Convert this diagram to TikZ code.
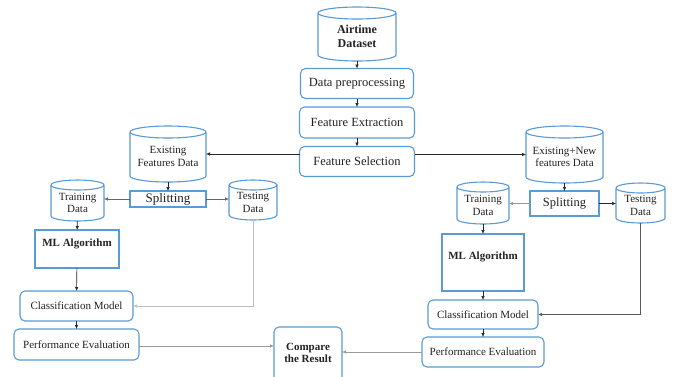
\documentclass[tikz,border=0pt]{standalone}
\usepackage{fontspec}
\setmainfont{Liberation Serif}
\usetikzlibrary{arrows.meta,calc}
\definecolor{boxblue}{HTML}{5B9BD5}
\definecolor{txt}{HTML}{222222}

\tikzset{
  base/.style={draw=boxblue, line width=1.1pt, text=txt, align=center, inner sep=1pt, outer sep=0pt},
  rbox/.style={base, rounded corners=5pt, font=\fontsize{11}{13}\selectfont},
  mainbox/.style={rbox, font=\fontsize{12.5}{14.5}\selectfont},
  sbox/.style={base},
  drum/.style={draw=none, inner sep=0pt, outer sep=0pt},
  drumtext/.style={align=center, text=txt, inner sep=0pt, font=\fontsize{11}{12.8}\selectfont},
  flow/.style={-{Latex[length=4pt,width=3.5pt]}, line width=0.6pt, draw=black!85},
  soft/.style={flow, draw=black!40},
}

% outline of a storage cylinder fitted to the bounds of node #1, cap half-height #2
\newcommand\drumoutline[2]{%
  \draw[boxblue, line width=1.1pt] let \p1=(#1.north west), \p2=(#1.south east),
      \n1={(\x2-\x1)/2} in
    (\x1,\y1-#2) -- (\x1,\y2+#2)
      arc[start angle=180, end angle=360, x radius=\n1, y radius=#2]
      -- (\x2,\y1-#2)
    (\x1,\y1-#2) arc[start angle=180, end angle=-180, x radius=\n1, y radius=#2];}

\begin{document}
\begin{tikzpicture}[x=1pt, y=-1pt]
\clip (0,0) rectangle (674,376);
\fill[white] (0,0) rectangle (674,376);

% central pipeline
\node[drum, minimum width=78pt, minimum height=54pt,
  label={[drumtext, font=\bfseries\fontsize{12}{13.5}\selectfont, yshift=-2.5pt]center:Airtime\\Dataset}]
  (ds) at (357,34) {};
\drumoutline{ds}{6pt}
\node[mainbox, minimum width=113pt, minimum height=30pt] (pre) at (357,83.5) {Data preprocessing};
\node[mainbox, minimum width=115pt, minimum height=31pt] (fex) at (357,122.5) {Feature Extraction};
\node[mainbox, minimum width=115pt, minimum height=30pt] (fsel) at (357,161.5) {Feature Selection};

% left branch
\node[drum, minimum width=76pt, minimum height=56pt,
  label={[drumtext, yshift=-2.5pt]center:Existing\\Features Data}] (exl) at (168,154) {};
\drumoutline{exl}{6pt}
\node[sbox, minimum width=76pt, minimum height=16pt, font=\fontsize{13}{14}\selectfont] (splL) at (168,199) {Splitting};
\node[drum, minimum width=53pt, minimum height=41pt,
  label={[drumtext, yshift=-2.5pt]center:Training\\Data}] (trL) at (77.5,200.5) {};
\drumoutline{trL}{5pt}
\node[drum, minimum width=48pt, minimum height=40pt,
  label={[drumtext, yshift=-2.5pt]center:Testing\\Data}] (teL) at (253,200) {};
\drumoutline{teL}{5pt}
\node[sbox, minimum width=84pt, minimum height=38pt,
  label={[drumtext, font=\bfseries\fontsize{11}{12.5}\selectfont, yshift=5pt]center:ML Algorithm}]
  (mlL) at (77,249) {};
\node[rbox, minimum width=113pt, minimum height=30pt] (clL) at (76.5,306) {Classification Model};
\node[rbox, minimum width=125pt, minimum height=31pt] (peL) at (76.5,344.5) {Performance Evaluation};

% comparison
\node[base, rounded corners=5pt, minimum width=68pt, minimum height=56pt,
  label={[drumtext, font=\bfseries\fontsize{11}{12.5}\selectfont, yshift=2pt]center:Compare\\the Result}]
  (cmp) at (308,355) {};

% right branch
\node[drum, minimum width=77pt, minimum height=57pt,
  label={[drumtext, yshift=-2.5pt]center:Existing+New\\features Data}] (exr) at (564.5,154.5) {};
\drumoutline{exr}{6pt}
\node[sbox, minimum width=69pt, minimum height=25pt, font=\fontsize{12.5}{14}\selectfont] (splR) at (564.5,203.5) {Splitting};
\node[drum, minimum width=52pt, minimum height=42pt,
  label={[drumtext, yshift=-2.5pt]center:Training\\Data}] (trR) at (483,203) {};
\drumoutline{trR}{5pt}
\node[drum, minimum width=49pt, minimum height=40pt,
  label={[drumtext, yshift=-2.5pt]center:Testing\\Data}] (teR) at (640.5,203) {};
\drumoutline{teR}{5pt}
\node[sbox, minimum width=82pt, minimum height=57pt,
  label={[drumtext, font=\bfseries\fontsize{11}{12.5}\selectfont, yshift=5.5pt]center:ML Algorithm}]
  (mlR) at (483,262.5) {};
\node[rbox, minimum width=110pt, minimum height=29pt] (clR) at (483,314.5) {Classification Model};
\node[rbox, minimum width=122pt, minimum height=30pt] (peR) at (483,352) {Performance Evaluation};

% connectors: pipeline
\draw[flow] (ds) -- (pre);
\draw[flow] (pre) -- (fex);
\draw[flow] (fex) -- (fsel);
\draw[flow] (fsel.west |- exl.east) -- (exl.east);
\draw[flow] (fsel.east |- exr.west) -- (exr.west);

% connectors: left branch
\draw[flow] (exl) -- (splL);
\draw[soft, draw=black!60] (splL.west) -- (splL.west -| trL.east);
\draw[soft, draw=black!60] (splL.east) -- (splL.east -| teL.west);
\draw[flow] (trL) -- (mlL);
\draw[flow] (mlL) -- (clL);
\draw[soft, draw=black!25] (teL.south) |- (clL.east);
\draw[flow] (clL) -- (peL);
\draw[soft] (peL.east) ++(0,1.5) coordinate (peLout) -- (peLout -| cmp.west);

% connectors: right branch
\draw[flow] (exr) -- (splR);
\draw[soft] (splR.west) -- (splR.west -| trR.east);
\draw[flow] (splR.east) -- (splR.east -| teR.west);
\draw[flow] (trR) -- (mlR);
\draw[flow] (mlR) -- (clR);
\draw[flow, draw=black!65] (teR.south) |- (clR.east);
\draw[flow] (clR) -- (peR);
\draw[soft] (peR.west) -- (peR.west -| cmp.east);
\end{tikzpicture}
\end{document}
